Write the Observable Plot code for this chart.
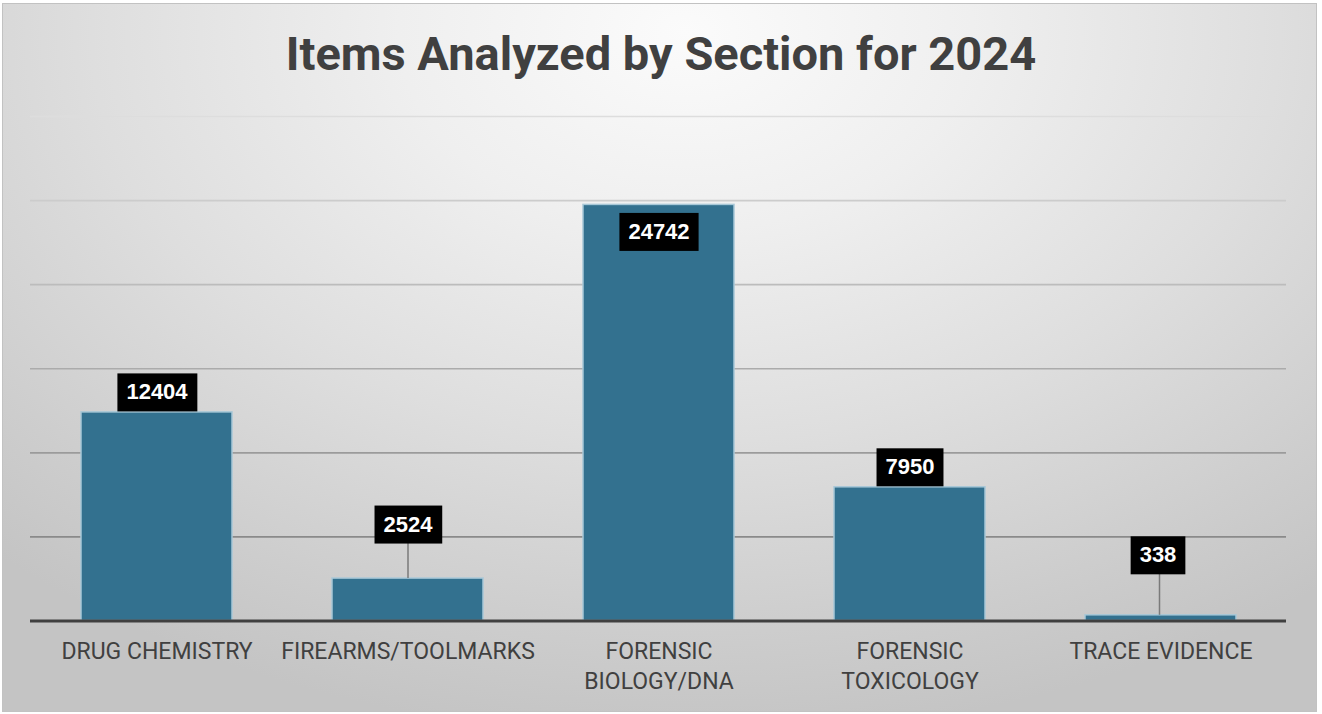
<!DOCTYPE html>
<html>
<head>
<meta charset="utf-8">
<script src="https://cdn.jsdelivr.net/npm/d3@7"></script>
<script src="https://cdn.jsdelivr.net/npm/@observablehq/plot@0.6"></script>
<style>
  html, body { margin: 0; padding: 0; background: #ffffff; width: 1322px; height: 714px; overflow: hidden; }
  #frame {
    position: absolute; left: 2px; top: 3px; width: 1313px; height: 707px;
    border: 1px solid #c2c2c2;
    background: radial-gradient(ellipse 78% 100% at 52% 4%, #fbfbfb 0%, #efefef 28%, #dedede 58%, #cdcdcd 85%, #c4c4c4 100%);
  }
  #title {
    position: absolute; left: 0; top: 29px; width: 1322px; text-align: center;
    font-family: Roboto, "Liberation Sans", sans-serif; font-weight: 700; font-size: 47px;
    line-height: 50px; color: #404040; margin: 0;
  }
  #chart { position: absolute; left: 0; top: 0; }
</style>
</head>
<body>
<div id="frame"></div>
<h1 id="title">Items Analyzed by Section for 2024</h1>
<div id="chart"></div>
<script>
// ---- data ----
const sections = ["DRUG CHEMISTRY", "FIREARMS/TOOLMARKS", "FORENSIC BIOLOGY/DNA", "FORENSIC TOXICOLOGY", "TRACE EVIDENCE"];
const items = [12404, 2524, 24742, 7950, 338];
const gridTicks = [5000, 10000, 15000, 20000, 25000, 30000];

const data = sections.map((s, i) => ({section: s, items: items[i]}));

// label placement (pixel offsets of the data-label box relative to bar top)
const labelDy = {"DRUG CHEMISTRY": -20, "FIREARMS/TOOLMARKS": -54, "FORENSIC BIOLOGY/DNA": 27, "FORENSIC TOXICOLOGY": -20, "TRACE EVIDENCE": -60};
const labelDx = {"TRACE EVIDENCE": -3};
const leaders = {"FIREARMS/TOOLMARKS": 35, "TRACE EVIDENCE": 41};

const labelMarks = data.map(d => Plot.text([d], {
  x: "section", y: "items", text: d => String(d.items),
  dy: labelDy[d.section], dx: labelDx[d.section] || 0,
  fill: "#ffffff", fontWeight: 700, fontSize: 22,
  fontFamily: "'Liberation Sans', Arial, sans-serif",
  className: "value-label"
}));

const leaderMarks = data.filter(d => leaders[d.section]).map(d => Plot.ruleX([d], {
  x: "section", y1: "items", y2: "items", insetTop: -leaders[d.section],
  dx: (labelDx[d.section] || 0) / 2,
  stroke: "#7a7a7a", strokeWidth: 1.5
}));

const chart = Plot.plot({
  width: 1322,
  height: 714,
  marginTop: 116,
  marginBottom: 93.5,
  marginLeft: 30,
  marginRight: 36,
  style: {background: "transparent", fontFamily: "Roboto, sans-serif", overflow: "visible"},
  x: {domain: sections, paddingInner: 0.4, paddingOuter: 0.2, axis: null},
  y: {domain: [0, 30000], axis: null},
  color: {type: "linear", domain: [5000, 30000], range: ["#8a8a8a", "#dddddd"]},
  marks: [
    Plot.ruleY(gridTicks, {y: d => d, stroke: d => d, strokeWidth: 1.6}),
    Plot.barY(data, {x: "section", y: "items", fill: "#33718f", stroke: "#a8c8d8", strokeWidth: 1.5}),
    Plot.ruleY([0], {stroke: "#404040", strokeWidth: 3}),
    ...leaderMarks,
    ...labelMarks,
    Plot.axisX({
      tickSize: 0, tickPadding: 17, fontSize: 23, lineHeight: 30 / 23,
      fill: "#404040", label: null, lineAnchor: "top",
      tickFormat: d => d.replace("FORENSIC ", "FORENSIC\n")
    })
  ]
});

document.getElementById("chart").appendChild(chart);

// black boxes behind the value labels
chart.querySelectorAll(".value-label text").forEach(t => {
  const bb = t.getBBox();
  const r = document.createElementNS("http://www.w3.org/2000/svg", "rect");
  r.setAttribute("x", bb.x - 9);
  r.setAttribute("width", bb.width + 18);
  r.setAttribute("y", -19);
  r.setAttribute("height", 38);
  r.setAttribute("fill", "#000000");
  const tr = t.getAttribute("transform");
  if (tr) r.setAttribute("transform", tr);
  t.parentNode.insertBefore(r, t);
});
</script>
</body>
</html>
